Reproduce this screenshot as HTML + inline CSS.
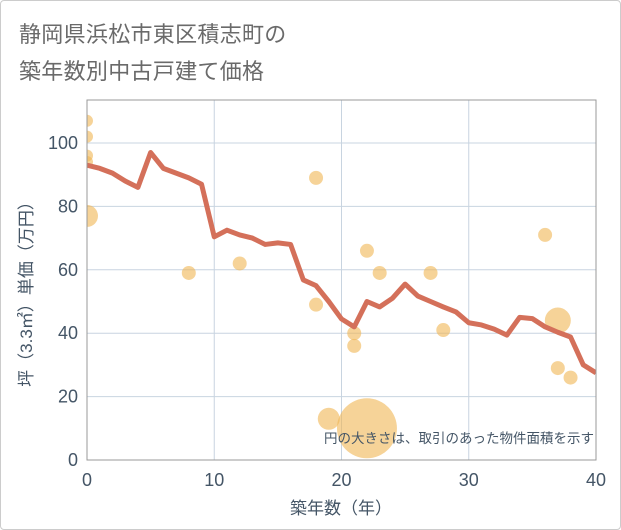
<!DOCTYPE html>
<html><head><meta charset="utf-8"><style>
body{margin:0;background:#fff;}
#wrap{position:relative;width:619px;height:528px;border:1px solid #ccc;border-radius:4px;overflow:hidden;font-family:"Liberation Sans","Noto Sans CJK JP",sans-serif;}
.t{position:absolute;left:18px;font-size:22px;color:#6a6a6a;letter-spacing:0.3px;}
</style></head><body>
<div id="wrap">
<div class="t" style="top:16px">静岡県浜松市東区積志町の</div>
<div class="t" style="top:53px">築年数別中古戸建て価格</div>
<svg id="chart" width="621" height="530" style="position:absolute;left:-1px;top:-1px"></svg>
</div>
<script>
const lineYears=[0,1,2,3,4,5,6,7,8,9,10,11,12,13,14,15,16,17,18,19,20,21,22,23,24,25,26,27,28,29,30,31,32,33,34,35,36,37,38,39,40];
const lineValues=[93,92,90.5,88,86,97,92,90.5,89,87,70.4,72.5,71,70,68,68.5,68,56.8,55,50,44.5,42,50,48.3,51,55.5,51.7,50,48.3,46.7,43.3,42.6,41.3,39.4,45,44.6,42,40.3,38.8,30,27.5];
const bubbleYears=[0,0,0,0,0,8,12,18,18,19,21,21,22,22,23,27,28,36,37,37,38];
const bubbleValues=[107,102,96,94,77,59,62,89,49,13,40,36,66,10,59,59,41,71,44,29,26];
const bubbleSizes=[6,6,6,6,11,7,7,7,7,11,7,7,7,30,7,7,7,7,13,7,7];
const xTicks=[0,10,20,30,40];
const yTicks=[0,20,40,60,80,100];
const NS='http://www.w3.org/2000/svg';
const svg=document.getElementById('chart');
const X0=87,X1=596,Y0=460,PT=100;
const xs=v=>X0+(X1-X0)*v/40;
const ys=v=>Y0-(Y0-143)*v/100;
function mk(t,a,p){const e=document.createElementNS(NS,t);for(const k in a)e.setAttribute(k,a[k]);(p||svg).appendChild(e);return e;}
let e;
const defs=mk('defs',{});
const cp=mk('clipPath',{id:'pc'},defs);
mk('rect',{x:X0,y:PT,width:X1-X0,height:Y0-PT},cp);
e=mk('rect',{x:X0,y:PT,width:X1-X0,height:Y0-PT,fill:'#fff'});


xTicks.forEach(t=>{
 e=mk('line',{x1:xs(t),x2:xs(t),y1:PT,y2:Y0,stroke:'#c8d4e0','stroke-width':1});
 
 
 e=mk('text',{x:xs(t),y:486,'text-anchor':'middle','font-size':18,fill:'#445566'});e.textContent=t;
 
 
});
yTicks.forEach(t=>{
 e=mk('line',{x1:X0,x2:X1,y1:ys(t),y2:ys(t),stroke:'#c8d4e0','stroke-width':1});
 
 
 e=mk('text',{x:78,y:ys(t)+6,'text-anchor':'end','font-size':18,fill:'#445566'});e.textContent=t;
 
 
});
const g=mk('g',{'clip-path':'url(#pc)'});


bubbleYears.forEach((y,i)=>{
 e=mk('circle',{cx:xs(y),cy:ys(bubbleValues[i]),r:bubbleSizes[i],fill:'#f0b554','fill-opacity':0.6},g);
 
 
});
e=mk('polyline',{points:lineYears.map((y,i)=>xs(y)+','+ys(lineValues[i])).join(' '),fill:'none',stroke:'#d4705a','stroke-width':5,'stroke-linejoin':'round'},g);


e=mk('rect',{x:X0,y:PT,width:X1-X0,height:Y0-PT,fill:'none',stroke:'#999','stroke-width':1});


e=mk('text',{x:594,y:443,'text-anchor':'end','font-size':13.5,fill:'#445566'});e.textContent='円の大きさは、取引のあった物件面積を示す';


e=mk('text',{x:341,y:514,'text-anchor':'middle','font-size':17,fill:'#445566'});e.textContent='築年数（年）';


e=mk('text',{x:0,y:0,'text-anchor':'middle','font-size':17,fill:'#445566',transform:'translate(32,290) rotate(-90)'});e.textContent='坪（3.3㎡）単価（万円）';


</script>
</body></html>
